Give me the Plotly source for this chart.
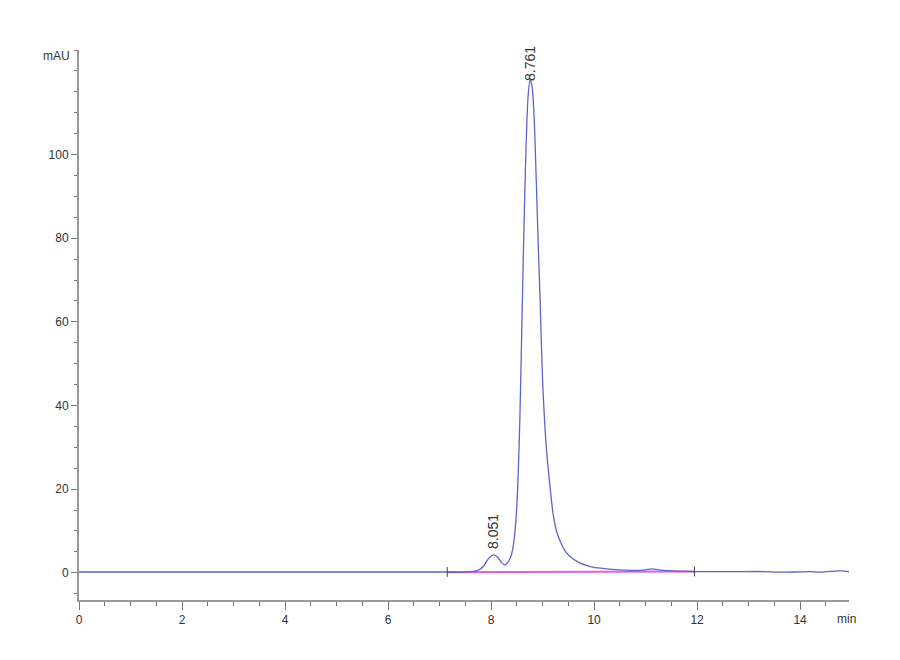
import plotly.graph_objects as go

# chromatogram (min, mAU)
time_min = [0.0, 1.0, 2.0, 3.0, 4.0, 5.0, 6.0, 6.5, 7.0, 7.15, 7.4, 7.6,
            7.75, 7.85, 7.95, 8.05, 8.13, 8.20, 8.27, 8.32, 8.36, 8.40,
            8.44, 8.48, 8.52, 8.56, 8.60, 8.64, 8.68, 8.72, 8.76, 8.80,
            8.84, 8.88, 8.92, 8.95, 9.00, 9.05, 9.10, 9.15, 9.20, 9.27,
            9.35, 9.45, 9.55, 9.70, 9.85, 10.0, 10.2, 10.5, 10.8, 11.0,
            11.12, 11.25, 11.5, 11.95, 12.3, 12.8, 13.3, 13.6, 13.9, 14.2,
            14.4, 14.6, 14.8, 14.95]
signal_mau = [0.2, 0.2, 0.2, 0.2, 0.2, 0.2, 0.2, 0.2, 0.2, 0.2, 0.2, 0.3,
              0.6, 1.5, 3.4, 4.3, 3.7, 2.5, 1.9, 2.4, 3.2, 4.5,
              7.2, 12.0, 21.0, 37.0, 60.0, 83.0, 102.0, 114.0, 118.0, 116.0,
              108.0, 93.0, 77.0, 66.0, 46.0, 34.0, 26.0, 20.0, 14.5, 10.0,
              7.3, 5.0, 3.7, 2.5, 1.8, 1.3, 1.0, 0.7, 0.55, 0.7,
              0.95, 0.7, 0.45, 0.3, 0.3, 0.3, 0.3, 0.15, 0.2, 0.3,
              0.15, 0.35, 0.45, 0.25]

# integration baseline and events
baseline_t = [7.15, 11.95]
baseline_y = [0.15, 0.3]
event_t = [7.15, 11.95]
event_y = [0.2, 0.3]

# peak labels
peak_t = [8.051, 8.761]
peak_y = [4.3, 118.0]
peak_labels = ["8.051", "8.761"]

fig = go.Figure()

fig.add_trace(go.Scatter(
    x=baseline_t, y=baseline_y, mode="lines",
    line=dict(color="#e060e0", width=2), hoverinfo="skip",
))
fig.add_trace(go.Scatter(
    x=time_min, y=signal_mau, mode="lines",
    line=dict(color="#6262cc", width=1.3, shape="spline", smoothing=0.6),
))
fig.add_trace(go.Scatter(
    x=event_t, y=event_y, mode="markers",
    marker=dict(symbol="line-ns", size=7, line=dict(color="#444444", width=1)),
    hoverinfo="skip",
))

for t, y, lab in zip(peak_t, peak_y, peak_labels):
    fig.add_annotation(
        x=t, y=y, text=lab, showarrow=False, textangle=-90,
        xanchor="center", yanchor="bottom", yshift=4 if y < 50 else -4,
        font=dict(family="Liberation Sans, Arial", size=14, color="#333333"),
    )

fig.add_annotation(
    x=0, y=123.6, xref="x", yref="y", text="mAU", showarrow=False,
    xanchor="right", xshift=-7,
    font=dict(family="Liberation Sans, Arial", size=12, color="#333333"),
)
fig.add_annotation(
    x=14.95, y=-6.5, xref="x", yref="y", text="min", showarrow=False,
    xanchor="left", yanchor="top", xshift=-14, yshift=-10,
    font=dict(family="Liberation Sans, Arial", size=12, color="#333333"),
)

axis_font = dict(family="Liberation Sans, Arial", size=12, color="#333333")

fig.update_xaxes(
    range=[0, 14.95], tickvals=[0, 2, 4, 6, 8, 10, 12, 14],
    ticks="outside", ticklen=8, tickcolor="#777777", tickwidth=1,
    minor=dict(dtick=0.5, ticks="outside", ticklen=4, tickcolor="#777777"),
    showline=True, linecolor="#999999", linewidth=2,
    showgrid=False, zeroline=False, tickfont=axis_font,
)
fig.update_yaxes(
    range=[-6.5, 125], tickvals=[0, 20, 40, 60, 80, 100],
    ticks="outside", ticklen=6, tickcolor="#777777", tickwidth=1,
    minor=dict(tick0=0, dtick=5, ticks="outside", ticklen=3, tickcolor="#777777"),
    showline=True, linecolor="#999999", linewidth=2,
    showgrid=False, zeroline=False, tickfont=axis_font,
)

fig.update_layout(
    width=900, height=660,
    margin=dict(l=71, r=59, t=42, b=68),
    plot_bgcolor="white", paper_bgcolor="white",
    showlegend=False,
)

fig.write_html("out.html")
